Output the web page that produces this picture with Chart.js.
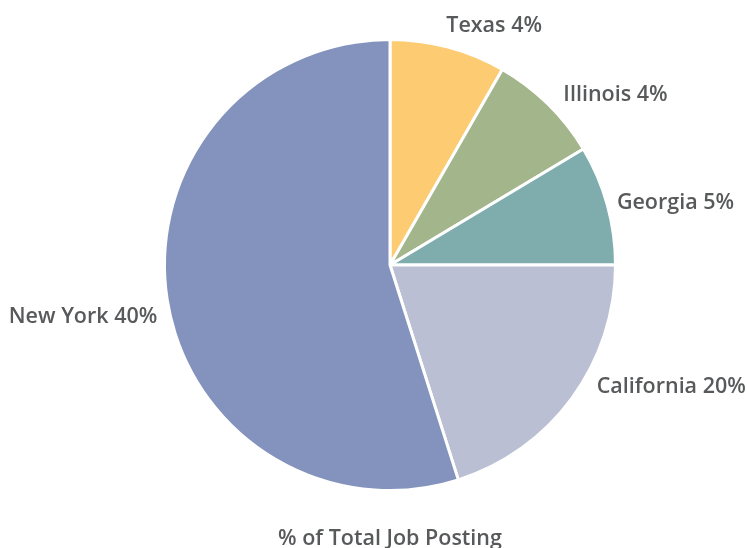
<!DOCTYPE html>
<html>
<head>
<meta charset="utf-8">
<script src="https://cdn.jsdelivr.net/npm/chart.js@4"></script>
<style>
  html, body { margin: 0; padding: 0; background: #fff; }
  #wrap { width: 747px; height: 548px; }
</style>
</head>
<body>
<div id="wrap"><canvas id="pieChart" width="747" height="548"></canvas></div>
<script>
// data (slice sizes), labels as printed
const states = ['Texas', 'Illinois', 'Georgia', 'California', 'New York'];
const shares = [8.3, 8.1, 8.6, 20.1, 54.9];
const printed = ['4%', '4%', '5%', '20%', '40%'];
const colors = ['#fdcc72', '#a3b58a', '#7fadad', '#babfd3', '#8393bd'];
const axisTitle = '% of Total Job Posting';

// small hand nudges for the outside labels
const nudgeX = [-5, 7, -2, 15, 2];
const nudgeY = [-10, -1, 1, -18, 15];

const textColor = '#58595b';
const fontFamily = '"Open Sans", "Noto Sans", sans-serif';

// outside labels, placed off each arc's mid angle
const sliceLabels = {
  id: 'sliceLabels',
  afterDraw(chart) {
    const c = chart.ctx;
    const arcs = chart.getDatasetMeta(0).data;
    c.save();
    c.fillStyle = textColor;
    c.font = '600 21.5px ' + fontFamily;
    c.textBaseline = 'middle';
    arcs.forEach((arc, i) => {
      const mid = (arc.startAngle + arc.endAngle) / 2;
      const r = arc.outerRadius + 12;
      const x = arc.x + Math.cos(mid) * r + nudgeX[i];
      const y = arc.y + Math.sin(mid) * r + nudgeY[i];
      c.textAlign = Math.cos(mid) >= 0 ? 'left' : 'right';
      c.fillText(states[i] + ' ' + printed[i], x, y);
    });
    // caption under the pie
    c.textAlign = 'center';
    c.fillText(axisTitle, arcs[0].x, 539);
    c.restore();
  }
};

const ctx = document.getElementById('pieChart').getContext('2d');
new Chart(ctx, {
  type: 'pie',
  data: {
    labels: states,
    datasets: [{
      data: shares,
      backgroundColor: colors,
      borderColor: '#ffffff',
      borderWidth: 3
    }]
  },
  options: {
    responsive: false,
    animation: false,
    events: [],
    layout: { padding: { top: 38, bottom: 56, left: 163, right: 130 } },
    plugins: {
      legend: { display: false },
      tooltip: { enabled: false },
      title: { display: false }
    }
  },
  plugins: [sliceLabels]
});
</script>
</body>
</html>
